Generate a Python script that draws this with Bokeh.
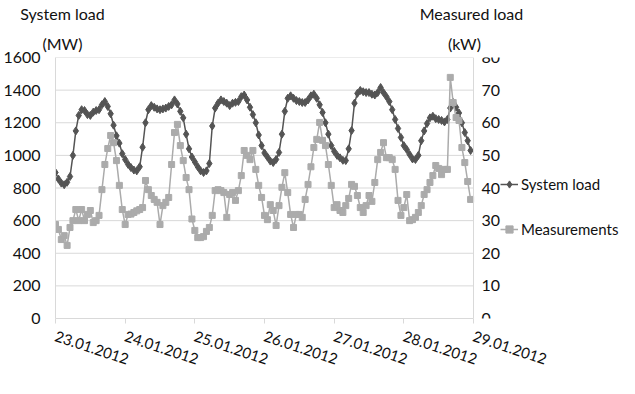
from bokeh.plotting import figure
from bokeh.models import Range1d, LinearAxis, FixedTicker, Legend, LegendItem
from bokeh.embed import file_html
from bokeh.resources import INLINE

# ---------------- data ----------------
date_labels = ["23.01.2012", "24.01.2012", "25.01.2012", "26.01.2012",
               "27.01.2012", "28.01.2012", "29.01.2012"]

# hourly system load (MW), 23.01.2012 00:00 ... 28.01.2012 23:00
system_load = [
    895, 855, 830, 820, 835, 870, 1000, 1150, 1245, 1280, 1275, 1250,
    1245, 1265, 1275, 1280, 1310, 1330, 1300, 1255, 1185, 1120, 1075, 1010,
    975, 945, 925, 910, 905, 930, 1050, 1200, 1280, 1305, 1295, 1285,
    1280, 1285, 1290, 1300, 1310, 1340, 1315, 1270, 1230, 1130, 1040, 990,
    960, 930, 905, 895, 905, 950, 1180, 1290, 1320, 1340, 1330, 1320,
    1305, 1320, 1325, 1330, 1360, 1370, 1340, 1295, 1250, 1200, 1125, 1060,
    1015, 990, 965, 956, 975, 1018, 1130, 1270, 1350, 1365, 1350, 1336,
    1330, 1324, 1324, 1340, 1365, 1375, 1350, 1310, 1263, 1200, 1130, 1060,
    1025, 1000, 985, 970, 968, 1040, 1152, 1320, 1380, 1398, 1390, 1385,
    1385, 1375, 1370, 1385, 1416, 1385, 1360, 1330, 1280, 1220, 1165, 1110,
    1060, 1036, 1005, 978, 975, 1000, 1090, 1150, 1195, 1230, 1240, 1225,
    1220, 1214, 1205, 1220, 1290, 1324, 1295, 1260, 1200, 1140, 1090, 1030,
]

# hourly measured load (kW)
measurements = [
    28.8, 27.3, 24.2, 25.4, 22.4, 27.9, 30.0, 33.4, 30.0, 33.4, 30.0, 31.9,
    33.1, 29.4, 30.0, 31.6, 39.5, 47.2, 52.1, 56.1, 53.9, 48.4, 40.8, 33.4,
    28.8, 31.9, 32.0, 32.5, 33.0, 33.4, 34.0, 42.3, 39.5, 37.7, 36.5, 35.6,
    28.8, 34.6, 35.6, 37.1, 47.2, 57.0, 59.5, 53.0, 48.4, 43.2, 39.5, 30.5,
    27.0, 24.8, 24.8, 25.1, 26.7, 27.9, 31.6, 39.2, 39.5, 39.2, 38.6, 31.0,
    38.0, 38.6, 36.2, 39.2, 43.8, 51.5, 50.0, 48.7, 51.5, 45.7, 40.8, 37.1,
    31.6, 30.3, 34.9, 33.1, 28.5, 34.6, 40.2, 44.7, 38.6, 31.9, 27.9, 31.9,
    31.9, 31.0, 36.5, 41.1, 46.5, 52.4, 54.9, 60.1, 54.6, 53.0, 47.2, 40.8,
    34.0, 34.9, 33.1, 32.5, 34.6, 36.8, 41.1, 40.5, 37.7, 34.0, 32.5, 34.6,
    37.7, 35.9, 41.7, 48.7, 50.9, 53.9, 49.3, 49.3, 48.7, 45.7, 36.2, 31.6,
    34.0, 38.0, 30.0, 30.3, 31.0, 32.5, 34.6, 38.0, 39.5, 41.7, 43.8, 46.9,
    46.0, 44.1, 45.7, 45.7, 73.9, 66.2, 61.6, 60.7, 52.4, 47.8, 42.0, 36.5,
]

mw_ticks = [0, 200, 400, 600, 800, 1000, 1200, 1400, 1600]
kw_ticks = [0, 10, 20, 30, 40, 50, 60, 70, 80]

axis_titles_top = ["System load", "Measured load"]
axis_titles_unit = ["(MW)", "(kW)"]
series_names = ["System load", "Measurements"]

hours = list(range(len(system_load)))
hours_per_day = 24
date_ticks = [i * hours_per_day for i in range(len(date_labels))]
x_start, x_end = date_ticks[0], date_ticks[-1]

# ---------------- style / layout ----------------
FONT = "Lato"
DARK = "#545454"
LIGHT = "#ababab"
GRID = "#d9d9d9"
TXT = "#111111"

PLOT_W = 418           # px width of the chart area (x_start .. x_end)
FRAME_W = 566          # frame also holds the legend to the right of the chart
view_end = x_start + (x_end - x_start) * FRAME_W / PLOT_W

# horizontal anchor (in x data units) of the axis titles above the frame
TITLE_POS_TOP = [2.4, 143.3]
TITLE_POS_UNIT = [2.4, 140.9]
LEGEND_XY = (445, 79)  # px from frame left / frame bottom

p = figure(frame_width=FRAME_W, frame_height=261,
           x_range=Range1d(x_start, view_end),
           y_range=Range1d(mw_ticks[0], mw_ticks[-1]),
           output_backend="svg", toolbar_location=None,
           min_border_left=53, min_border_right=0,
           min_border_top=57, min_border_bottom=60)
p.outline_line_color = None
p.background_fill_color = "white"
p.border_fill_color = "white"

# right-hand kW axis, drawn at the right end of the chart area
p.extra_y_ranges = {"kw": Range1d(kw_ticks[0], kw_ticks[-1])}
right_axis = LinearAxis(y_range_name="kw", ticker=FixedTicker(ticks=kw_ticks),
                        fixed_location=x_end)
p.add_layout(right_axis, "right")

left_axis = p.left[0]
left_axis.ticker = FixedTicker(ticks=mw_ticks)

for ax, standoff in ((left_axis, 15), (right_axis, 8)):
    ax.axis_line_color = GRID
    ax.major_tick_line_color = None
    ax.major_tick_out = 0
    ax.major_tick_in = 0
    ax.minor_tick_line_color = None
    ax.minor_tick_out = 0
    ax.major_label_text_font = FONT
    ax.major_label_text_font_size = "16px"
    ax.major_label_text_color = TXT
    ax.major_label_standoff = standoff

bx = p.below[0]
bx.ticker = FixedTicker(ticks=date_ticks)
bx.bounds = (x_start, x_end)
bx.major_label_overrides = {t: lab for t, lab in zip(date_ticks, date_labels)}
bx.major_label_orientation = -0.32
bx.axis_line_color = GRID
bx.major_tick_line_color = GRID
bx.major_tick_out = 5
bx.major_tick_in = 0
bx.minor_tick_line_color = None
bx.major_label_text_font = FONT
bx.major_label_text_font_size = "15px"
bx.major_label_text_color = TXT
bx.major_label_standoff = 12

# axis titles: text-only axes above the frame (units row, then name row)
for positions, texts, standoff in ((TITLE_POS_UNIT, axis_titles_unit, 5),
                                   (TITLE_POS_TOP, axis_titles_top, 8)):
    ta = LinearAxis(ticker=FixedTicker(ticks=positions),
                    major_label_overrides={t: s for t, s in zip(positions, texts)})
    ta.axis_line_color = None
    ta.major_tick_line_color = None
    ta.major_tick_out = 0
    ta.major_tick_in = 0
    ta.minor_tick_line_color = None
    ta.minor_tick_out = 0
    ta.major_label_text_font = FONT
    ta.major_label_text_font_size = "16px"
    ta.major_label_text_color = TXT
    ta.major_label_standoff = standoff
    p.add_layout(ta, "above")

# horizontal gridlines limited to the chart area
p.xgrid.visible = False
p.ygrid.visible = False
p.segment(x0=[x_start] * len(mw_ticks), y0=mw_ticks,
          x1=[x_end] * len(mw_ticks), y1=mw_ticks,
          line_color=GRID, line_width=1)

# ---------------- series ----------------
sl_line = p.line(hours, system_load, line_color=DARK, line_width=1.5)
sl_pts = p.scatter(hours, system_load, marker="diamond", size=8,
                   fill_color=DARK, line_color=DARK)
ms_line = p.line(hours, measurements, line_color=LIGHT, line_width=1.5,
                 y_range_name="kw")
ms_pts = p.scatter(hours, measurements, marker="square", size=6,
                   fill_color=LIGHT, line_color=LIGHT, y_range_name="kw")

legend = Legend(items=[
    LegendItem(label=series_names[0], renderers=[sl_line, sl_pts]),
    LegendItem(label=series_names[1], renderers=[ms_line, ms_pts]),
], location=LEGEND_XY)
legend.padding = 0
legend.margin = 0
legend.spacing = 25
legend.glyph_width = 18
legend.glyph_height = 20
legend.label_height = 20
legend.label_standoff = 3
legend.border_line_color = None
legend.background_fill_alpha = 0
legend.label_text_font = FONT
legend.label_text_font_size = "15px"
legend.label_text_color = TXT
p.add_layout(legend)

open("out.html", "w").write(file_html(p, INLINE))
